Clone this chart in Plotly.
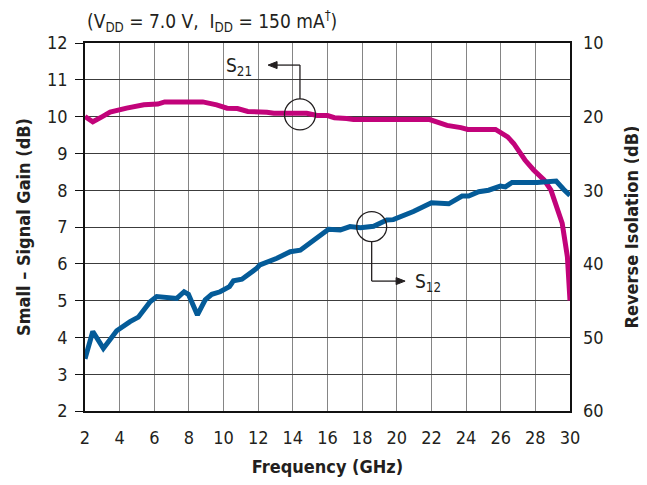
import plotly.graph_objects as go

# S21 small-signal gain (dB) vs frequency (GHz)
s21_freq = [2.0, 2.45, 3.0, 3.45, 4.4, 5.4, 6.2, 6.6, 7.5, 8.8, 9.6, 10.2, 10.8, 11.4,
            12.5, 12.9, 14.8, 15.4, 16.0, 16.4, 17.1, 17.5, 21.9, 22.3, 22.9, 23.7,
            24.1, 25.7, 26.4, 26.75, 27.4, 27.9, 28.5, 28.9, 29.3, 29.55, 29.85, 30.0]
s21_gain = [10.0, 9.86, 10.0, 10.12, 10.23, 10.32, 10.34, 10.40, 10.40, 10.40, 10.32,
            10.23, 10.22, 10.14, 10.12, 10.09, 10.09, 10.03, 10.03, 9.97, 9.95, 9.92,
            9.92, 9.85, 9.76, 9.70, 9.65, 9.65, 9.45, 9.27, 8.82, 8.55, 8.28, 8.0,
            7.46, 7.1, 6.19, 5.0]

# S12 reverse isolation (dB) vs frequency (GHz)
s12_freq = [2.0, 2.45, 3.06, 3.83, 4.6, 5.08, 5.76, 6.14, 7.3, 7.72, 7.97, 8.49, 8.94,
            9.32, 9.8, 10.34, 10.57, 11.06, 11.92, 12.1, 13.08, 13.85, 14.43, 15.39,
            16.06, 16.74, 17.3, 17.9, 18.66, 19.43, 19.8, 20.96, 22.0, 23.0, 23.77,
            24.15, 24.73, 25.3, 25.98, 26.27, 26.65, 28.1, 28.87, 29.2, 29.64, 30.0]
s12_iso = [52.9, 49.2, 51.5, 49.1, 47.85, 47.25, 45.15, 44.45, 44.7, 43.8, 44.15, 46.95,
           44.9, 44.15, 43.8, 43.1, 42.3, 42.1, 40.6, 40.15, 39.25, 38.35, 38.15, 36.55,
           35.3, 35.4, 34.95, 35.1, 34.9, 34.05, 34.0, 32.9, 31.7, 31.85, 30.8, 30.8,
           30.2, 30.0, 29.45, 29.55, 28.95, 28.95, 28.7, 28.75, 29.9, 30.7]

x_ticks = list(range(2, 31, 2))
y_ticks = list(range(2, 13))
y2_ticks = [10, 20, 30, 40, 50, 60]

FONT = "Liberation Sans Narrow, DejaVu Sans Condensed, Arial Narrow, sans-serif"
TXT = "#231f20"
MAGENTA = "#C2037A"
BLUE = "#045B98"
INK = "#231f20"

fig = go.Figure()
fig.add_trace(go.Scatter(x=s21_freq, y=s21_gain, mode="lines",
                         line=dict(color=MAGENTA, width=5), yaxis="y", showlegend=False))
fig.add_trace(go.Scatter(x=s12_freq, y=s12_iso, mode="lines",
                         line=dict(color=BLUE, width=5), yaxis="y2", showlegend=False))

fig.update_layout(
    width=639, height=477,
    margin=dict(l=77, r=77, t=35, b=74),
    paper_bgcolor="white", plot_bgcolor="white",
    font=dict(family=FONT, size=18, color=TXT),
    xaxis=dict(range=[2, 30], tickvals=x_ticks, showgrid=True, gridcolor="#858585",
               gridwidth=1.4, showline=True, linecolor="#111", linewidth=1.5, mirror=True,
               ticks="", ticklabelstandoff=10, zeroline=False, automargin=False,
               title=dict(text="<b>Frequency (GHz)</b>", standoff=13,
                          font=dict(size=18, family=FONT, color=TXT))),
    yaxis=dict(range=[2, 12], tickvals=y_ticks, showgrid=True, gridcolor="#3c3c3c",
               gridwidth=1.4, showline=True, linecolor="#111", linewidth=1.5, mirror=True,
               ticks="outside", ticklen=8, tickcolor="#111", tickwidth=1.4,
               ticklabelstandoff=4, zeroline=False, automargin=False,
               title=dict(text="<b>Small – Signal Gain (dB)</b>", standoff=12,
                          font=dict(size=18, family=FONT, color=TXT))),
    yaxis2=dict(range=[60, 10], tickvals=y2_ticks, overlaying="y", side="right",
                showgrid=False, showline=False, ticks="", ticklabelstandoff=12,
                zeroline=False, automargin=False,
                title=dict(text="<b>Reverse Isolation (dB)</b>", standoff=22,
                           font=dict(size=18, family=FONT, color=TXT))),
)

# Header note
fig.add_annotation(xref="paper", yref="paper", x=0, y=1, xanchor="left", yanchor="bottom",
                   yshift=6, xshift=0, showarrow=False,
                   text="(V<sub>DD</sub> = 7.0 V,  I<sub>DD</sub> = 150 mA<sup>†</sup>)",
                   font=dict(size=19, family=FONT, color=TXT))

def arrow_head(xa, ya, direction):
    # small filled triangle in pixel units anchored at the arrow tip
    if direction == "left":
        path = "M 0 0 L 9 -3.5 L 9 3.5 Z"
    else:
        path = "M 0 0 L -9 -3.5 L -9 3.5 Z"
    fig.add_shape(type="path", xref="x", yref="y", xsizemode="pixel", ysizemode="pixel",
                  xanchor=xa, yanchor=ya, path=path, fillcolor=INK,
                  line=dict(color=INK, width=1))

# S21 callout
fig.add_shape(type="circle", xref="x", yref="y", xsizemode="pixel", ysizemode="pixel",
              xanchor=14.41, yanchor=10.06, x0=-15.5, x1=15.5, y0=-15.5, y1=15.5,
              line=dict(color=INK, width=1.3))
fig.add_shape(type="line", xref="x", yref="y", x0=14.41, x1=14.41, y0=10.48, y1=11.40,
              line=dict(color=INK, width=1.3))
fig.add_shape(type="line", xref="x", yref="y", x0=14.41, x1=12.75, y0=11.40, y1=11.40,
              line=dict(color=INK, width=1.3))
arrow_head(12.57, 11.40, "left")
fig.add_annotation(x=11.78, y=11.37, xref="x", yref="y", xanchor="right", showarrow=False,
                   text="S<sub>21</sub>", font=dict(size=19, family=FONT, color=TXT))

# S12 callout
fig.add_shape(type="circle", xref="x", yref="y", xsizemode="pixel", ysizemode="pixel",
              xanchor=18.55, yanchor=7.01, x0=-15, x1=15, y0=-15, y1=15,
              line=dict(color=INK, width=1.3))
fig.add_shape(type="line", xref="x", yref="y", x0=18.55, x1=18.55, y0=6.60, y1=5.53,
              line=dict(color=INK, width=1.3))
fig.add_shape(type="line", xref="x", yref="y", x0=18.55, x1=20.3, y0=5.53, y1=5.53,
              line=dict(color=INK, width=1.3))
arrow_head(20.48, 5.53, "right")
fig.add_annotation(x=20.95, y=5.50, xref="x", yref="y", xanchor="left", showarrow=False,
                   text="S<sub>12</sub>", font=dict(size=19, family=FONT, color=TXT))

fig.write_html("out.html")
